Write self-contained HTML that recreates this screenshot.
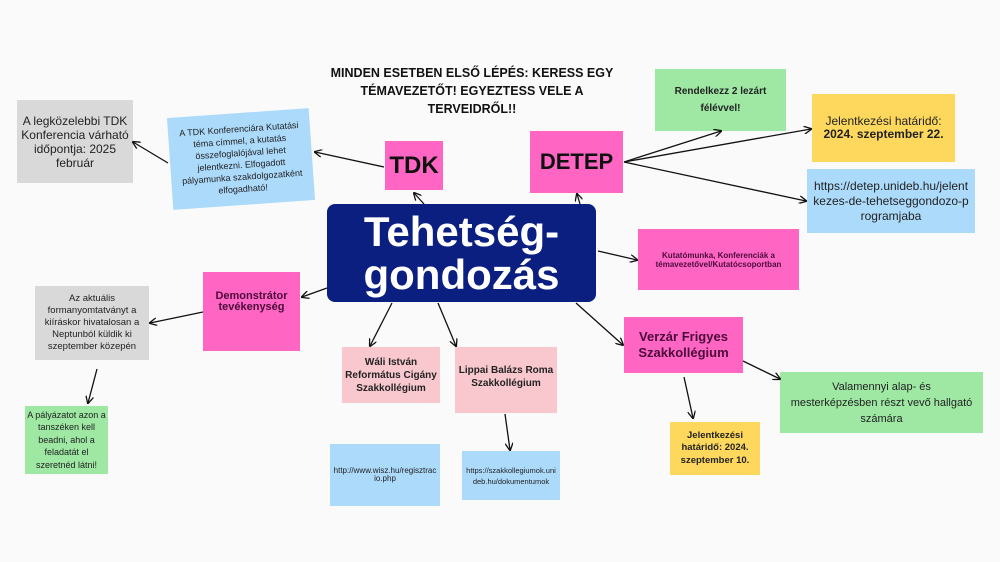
<!DOCTYPE html>
<html><head><meta charset="utf-8"><style>
body{margin:0;width:1000px;height:562px;background:#fafafa;position:relative;overflow:hidden;font-family:"Liberation Sans",sans-serif;}
.b{position:absolute;display:flex;align-items:center;justify-content:center;text-align:center;box-sizing:border-box;color:#222;}
.pink{background:#ff66c4;}
.lp{background:#f9c8ce;}
.gr{background:#9ee8a4;}
.ye{background:#fdd85d;}
.bl{background:#acdafb;}
.gy{background:#d9d9d9;}
.bo{font-weight:bold;}
</style></head><body>
<div class="b bo" style="left:322px;top:63px;width:300px;height:56px;font-size:12.5px;line-height:18px;color:#111">MINDEN ESETBEN ELSŐ LÉPÉS: KERESS EGY TÉMAVEZETŐT! EGYEZTESS VELE A TERVEIDRŐL!!</div>

<div class="b gy" style="left:17px;top:100px;width:116px;height:83px;font-size:12px;line-height:14px;padding:0 4px">A legközelebbi TDK Konferencia várható időpontja: 2025 február</div>
<div class="b bl" style="left:170px;top:113px;width:142px;height:92px;font-size:9px;line-height:12px;transform:rotate(-4deg);padding:0 6px">A TDK Konferenciára Kutatási téma címmel, a kutatás összefoglalójával lehet jelentkezni. Elfogadott pályamunka szakdolgozatként elfogadható!</div>
<div class="b pink bo" style="left:385px;top:141px;width:58px;height:49px;font-size:24px;color:#111">TDK</div>
<div class="b pink bo" style="left:530px;top:131px;width:93px;height:62px;font-size:22px;color:#111">DETEP</div>
<div class="b gr bo" style="left:655px;top:69px;width:131px;height:62px;font-size:10px;line-height:17px;padding:0 14px">Rendelkezz 2 lezárt félévvel!</div>
<div class="b ye" style="left:812px;top:94px;width:143px;height:68px;font-size:12px;line-height:13px;flex-direction:column"><span>Jelentkezési határidő:</span><b>2024. szeptember 22.</b></div>
<div class="b bl" style="left:807px;top:169px;width:168px;height:64px;font-size:12px;line-height:15px;word-break:break-all;padding:0 6px">https://detep.unideb.hu/jelentkezes-de-tehetseggondozo-programjaba</div>

<div class="b" style="left:327px;top:204px;width:269px;height:98px;background:#0b1f80;border-radius:8px;color:#fff;font-weight:bold;font-size:42px;line-height:43px">Tehetség-<br>gondozás</div>

<div class="b pink bo" style="left:638px;top:229px;width:161px;height:61px;font-size:8px;line-height:9px;color:#4a0a3a">Kutatómunka, Konferenciák a témavezetővel/Kutatócsoportban</div>
<div class="b pink bo" style="left:203px;top:272px;width:97px;height:79px;font-size:11px;line-height:11px;color:#4a0a3a;padding-bottom:20px">Demonstrátor tevékenység</div>
<div class="b gy" style="left:35px;top:286px;width:114px;height:74px;font-size:9.5px;line-height:12px;padding:0 3px">Az aktuális formanyomtatványt a kiíráskor hivatalosan a Neptunból küldik ki szeptember közepén</div>
<div class="b gr" style="left:25px;top:406px;width:83px;height:68px;font-size:9px;line-height:12.5px">A pályázatot azon a tanszéken kell beadni, ahol a feladatát el szeretnéd látni!</div>
<div class="b lp bo" style="left:342px;top:347px;width:98px;height:56px;font-size:10px;line-height:13px">Wáli István Református Cigány Szakkollégium</div>
<div class="b lp bo" style="left:455px;top:347px;width:102px;height:66px;font-size:10px;line-height:13px;padding-bottom:6px">Lippai Balázs Roma Szakkollégium</div>
<div class="b bl" style="left:330px;top:444px;width:110px;height:62px;font-size:8px;line-height:8px;word-break:break-all;padding:0 3px">http://www.wisz.hu/regisztracio.php</div>
<div class="b bl" style="left:462px;top:451px;width:98px;height:49px;font-size:7.5px;line-height:11px;word-break:break-all;padding:0 4px">https://szakkollegiumok.unideb.hu/dokumentumok</div>
<div class="b pink bo" style="left:624px;top:317px;width:119px;height:56px;font-size:13px;line-height:16px;color:#4a0a3a">Verzár Frigyes Szakkollégium</div>
<div class="b gr" style="left:780px;top:372px;width:203px;height:61px;font-size:11px;line-height:16px;padding:0 8px">Valamennyi alap- és mesterképzésben részt vevő hallgató számára</div>
<div class="b ye bo" style="left:670px;top:422px;width:90px;height:53px;font-size:9.5px;line-height:12.5px">Jelentkezési határidő: 2024. szeptember 10.</div>

<svg width="1000" height="562" style="position:absolute;left:0;top:0" >
<defs><marker id="a" markerWidth="8" markerHeight="8" refX="7" refY="4" orient="auto" markerUnits="userSpaceOnUse"><path d="M0,0 L8,4 L0,8" fill="none" stroke="#111" stroke-width="1.3"/></marker></defs>
<g stroke="#111" stroke-width="1.3" fill="none" marker-end="url(#a)">
<line x1="384" y1="167" x2="315" y2="152"/>
<line x1="168" y1="163" x2="133" y2="142"/>
<line x1="424" y1="204" x2="414" y2="193"/>
<line x1="580" y1="204" x2="577" y2="194"/>
<line x1="624" y1="162" x2="721" y2="131"/>
<line x1="624" y1="162" x2="811" y2="129"/>
<line x1="624" y1="162" x2="806" y2="201"/>
<line x1="598" y1="251" x2="637" y2="260"/>
<line x1="327" y1="288" x2="302" y2="297"/>
<line x1="203" y1="312" x2="150" y2="323"/>
<line x1="97" y1="369" x2="88" y2="403"/>
<line x1="392" y1="303" x2="370" y2="346"/>
<line x1="438" y1="303" x2="456" y2="346"/>
<line x1="576" y1="303" x2="623" y2="345"/>
<line x1="505" y1="414" x2="510" y2="450"/>
<line x1="684" y1="377" x2="693" y2="418"/>
<line x1="743" y1="361" x2="780" y2="379"/>
</g></svg>
</body></html>
